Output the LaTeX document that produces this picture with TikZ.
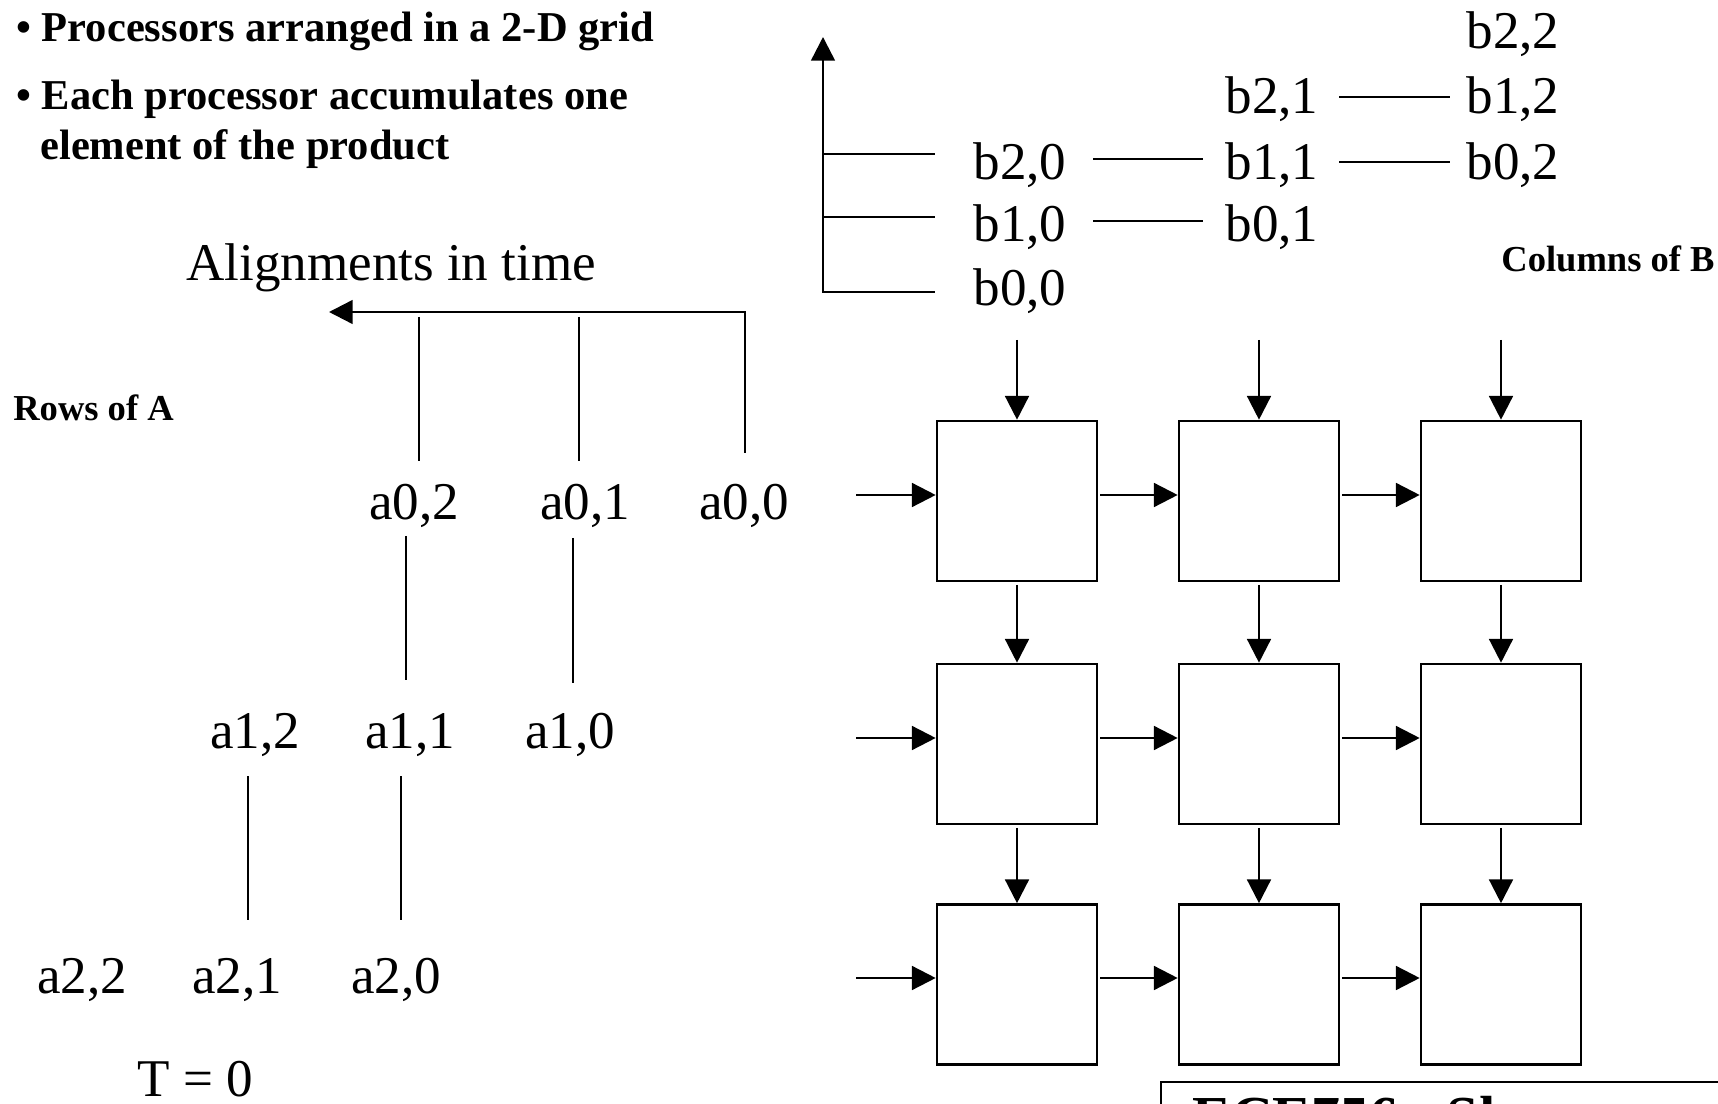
\documentclass[tikz,border=0pt]{standalone}
\usepackage{fontspec}
\setmainfont{Liberation Serif}
\usetikzlibrary{arrows.meta}
\begin{document}
\begin{tikzpicture}[x=0.02cm,y=-0.02cm,
  big/.style={font=\fontsize{30.2}{36}\selectfont, inner sep=0pt, anchor=base},
  hdr/.style={font=\fontsize{24.2}{29}\selectfont\bfseries, inner sep=0pt, anchor=base west},
  lbl/.style={font=\fontsize{20.8}{25}\selectfont\bfseries, inner sep=0pt, anchor=base west},
  thin/.style={line width=1.2pt},
  arr/.style={line width=1.4pt, -{Triangle[length=13.5pt,width=13.5pt]}},
  proc/.style={draw, line width=1.5pt, minimum width=3.2cm, minimum height=3.2cm, inner sep=0pt},
]
\useasboundingbox (0,0) rectangle (1718,1104);
\clip (0,0) rectangle (1718,1104);
\fill[white] (0,0) rectangle (1718,1104);

% header
\node[hdr] (h1) at (16,42) {• Processors arranged in a 2-D grid};
\node[hdr] (h2) at (16,110) {• Each processor accumulates one};
\node[hdr] (h3) at (40,160) {element of the product};

\node[big, anchor=base west] (align) at (186,281) {Alignments in time};
\node[lbl] (rowsA) at (13,421) {Rows of A};
\node[lbl] (colsB) at (1501,272) {Columns of B};

% rows of A
\node[big] (a02) at (414,520) {a0,2};
\node[big] (a01) at (585,520) {a0,1};
\node[big] (a00) at (744,520) {a0,0};
\node[big] (a12) at (255,748) {a1,2};
\node[big] (a11) at (410,748) {a1,1};
\node[big] (a10) at (570,748) {a1,0};
\node[big] (a22) at (82,993) {a2,2};
\node[big] (a21) at (237,993) {a2,1};
\node[big] (a20) at (396,993) {a2,0};
\node[big, anchor=base west] (T0) at (137,1096) {T = 0};

% time arrow
\coordinate (ta) at (745,453);
\coordinate (tb) at (745,312);
\coordinate (tc) at (329,312);
\draw[arr] (ta) -- (tb) -- (tc);
\draw[thin] (419,317) -- (419,461);
\draw[thin] (579,317) -- (579,461);
\draw[thin] (406,536) -- (406,680);
\draw[thin] (573,538) -- (573,683);
\draw[thin] (248,776) -- (248,920);
\draw[thin] (401,776) -- (401,920);

% columns of B
\node[big] (b20) at (1020,180) {b2,0};
\node[big] (b10) at (1020,242) {b1,0};
\node[big] (b00) at (1020,306) {b0,0};
\node[big] (b21) at (1272,114) {b2,1};
\node[big] (b11) at (1272,180) {b1,1};
\node[big] (b01) at (1272,242) {b0,1};
\node[big] (b22) at (1513,49) {b2,2};
\node[big] (b12) at (1513,114) {b1,2};
\node[big] (b02) at (1513,180) {b0,2};

\coordinate (va) at (823,293);
\coordinate (vb) at (823,37);
\draw[arr] (va) -- (vb);
\draw[thin] (823,154) -- (935,154);
\draw[thin] (823,217) -- (935,217);
\draw[thin] (823,292) -- (935,292);
\draw[thin] (1093,159) -- (1203,159);
\draw[thin] (1093,221) -- (1203,221);
\draw[thin] (1339,97) -- (1450,97);
\draw[thin] (1339,162) -- (1450,162);

% processor grid
\foreach \r/\y in {1/501,2/744,3/984.5}{
  \foreach \c/\x in {1/1017,2/1259,3/1501}{
    \node[proc] (p\r\c) at (\x,\y) {};
  }
}
% inputs from top
\foreach \c/\x in {1/1017,2/1259,3/1501}{
  \coordinate (top\c) at (\x,340);
  \draw[arr] (top\c) -- (p1\c.north);
  \draw[arr] ([yshift=-0.05cm]p1\c.south) -- (p2\c.north);
  \draw[arr] ([yshift=-0.05cm]p2\c.south) -- (p3\c.north);
}
% inputs from left
\foreach \r/\y in {1/495,2/738,3/978}{
  \coordinate (in\r) at (856,\y);
  \draw[arr] (in\r) -- (in\r -| p\r1.west);
  \draw[arr] ([xshift=0.04cm]in\r -| p\r1.east) -- (in\r -| p\r2.west);
  \draw[arr] ([xshift=0.04cm]in\r -| p\r2.east) -- (in\r -| p\r3.west);
}

% bottom right title box (cut off)
\draw[line width=1.5pt] (1161,1082) rectangle (1760,1250);
\node[anchor=base west, inner sep=0pt, font=\fontsize{33}{40}\selectfont\bfseries] (ece) at (1192,1136) {ECE756 - Shu};
\end{tikzpicture}
\end{document}
